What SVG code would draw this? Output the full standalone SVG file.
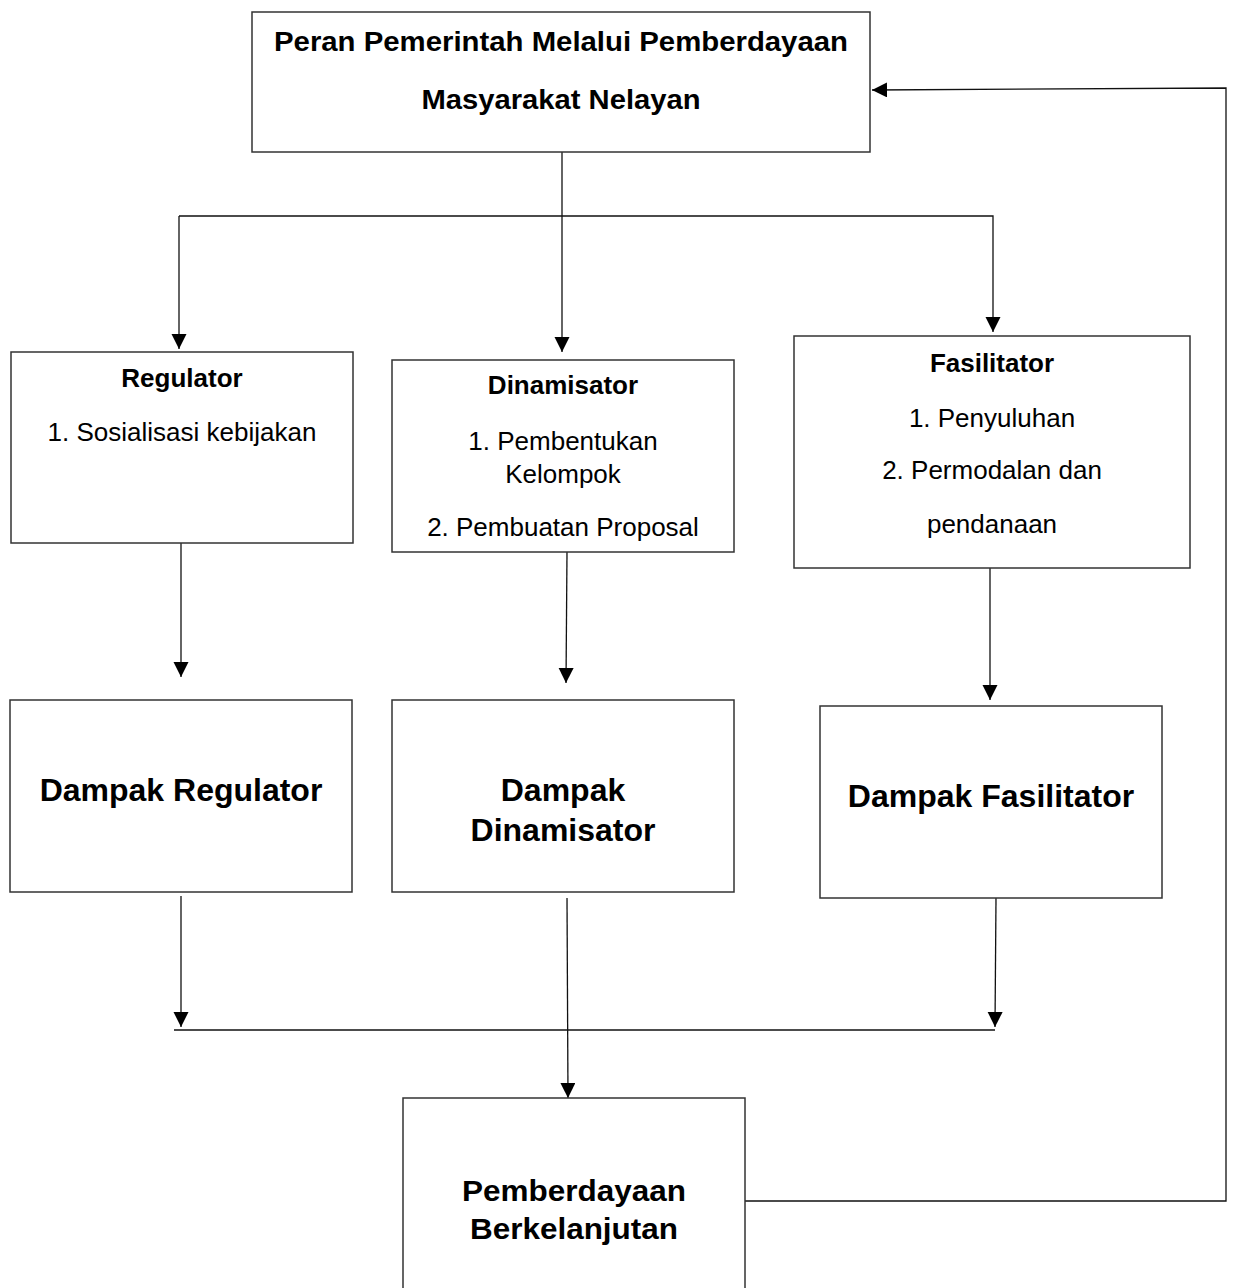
<svg xmlns="http://www.w3.org/2000/svg" width="1234" height="1288" viewBox="0 0 1234 1288">
<style>
.box{fill:#fff;stroke:#333;stroke-width:1.5}
.ln{fill:none;stroke:#111;stroke-width:1.3}
text{font-family:"Liberation Sans",Arial,sans-serif;fill:#000;text-anchor:middle}
.h{font-weight:bold;font-size:26px}
.r{font-size:26px}
.big{font-weight:bold;font-size:32px}
.tt{font-weight:bold;font-size:27px}
.bt{font-weight:bold;font-size:30px}
</style>
<defs>
<marker id="ah" markerWidth="15" markerHeight="16" refX="15" refY="7.5" orient="auto" markerUnits="userSpaceOnUse">
<path d="M0,0 L15,7.5 L0,15 Z" fill="#000"/>
</marker>
</defs>
<rect width="1234" height="1288" fill="#fff"/>
<g id="connectors">
<line class="ln" x1="562" y1="152" x2="562" y2="352" marker-end="url(#ah)"/>
<polyline class="ln" points="179,216 993,216 993,332" marker-end="url(#ah)"/>
<line class="ln" x1="179" y1="216" x2="179" y2="349" marker-end="url(#ah)"/>
<line class="ln" x1="181" y1="543" x2="181" y2="677" marker-end="url(#ah)"/>
<line class="ln" x1="567" y1="552" x2="566" y2="683" marker-end="url(#ah)"/>
<line class="ln" x1="990" y1="568" x2="990" y2="700" marker-end="url(#ah)"/>
<line class="ln" x1="181" y1="896" x2="181" y2="1027" marker-end="url(#ah)"/>
<line class="ln" x1="996" y1="898" x2="995" y2="1027" marker-end="url(#ah)"/>
<line class="ln" x1="174" y1="1030" x2="995" y2="1030"/>
<line class="ln" x1="567" y1="898" x2="568" y2="1098" marker-end="url(#ah)"/>
<polyline class="ln" points="745,1201 1226,1201 1226,88 872,90" marker-end="url(#ah)"/>
</g>
<g id="top">
<rect class="box" x="252" y="12" width="618" height="140"/>
<text class="tt" x="561" y="51" textLength="574" lengthAdjust="spacingAndGlyphs">Peran Pemerintah Melalui Pemberdayaan</text>
<text class="tt" x="561" y="109" textLength="279" lengthAdjust="spacingAndGlyphs">Masyarakat Nelayan</text>
</g>
<g id="regulator">
<rect class="box" x="11" y="352" width="342" height="191"/>
<text class="h" x="182" y="387">Regulator</text>
<text class="r" x="182" y="441">1. Sosialisasi kebijakan</text>
</g>
<g id="dinamisator">
<rect class="box" x="392" y="360" width="342" height="192"/>
<text class="h" x="563" y="394">Dinamisator</text>
<text class="r" x="563" y="450">1. Pembentukan</text>
<text class="r" x="563" y="483">Kelompok</text>
<text class="r" x="563" y="536">2. Pembuatan Proposal</text>
</g>
<g id="fasilitator">
<rect class="box" x="794" y="336" width="396" height="232"/>
<text class="h" x="992" y="372">Fasilitator</text>
<text class="r" x="992" y="427">1. Penyuluhan</text>
<text class="r" x="992" y="479">2. Permodalan dan</text>
<text class="r" x="992" y="533">pendanaan</text>
</g>
<g id="dampak-regulator">
<rect class="box" x="10" y="700" width="342" height="192"/>
<text class="big" x="181" y="801">Dampak Regulator</text>
</g>
<g id="dampak-dinamisator">
<rect class="box" x="392" y="700" width="342" height="192"/>
<text class="big" x="563" y="801">Dampak</text>
<text class="big" x="563" y="841">Dinamisator</text>
</g>
<g id="dampak-fasilitator">
<rect class="box" x="820" y="706" width="342" height="192"/>
<text class="big" x="991" y="807">Dampak Fasilitator</text>
</g>
<g id="pemberdayaan">
<rect class="box" x="403" y="1098" width="342" height="200"/>
<text class="bt" x="574" y="1201" textLength="224" lengthAdjust="spacingAndGlyphs">Pemberdayaan</text>
<text class="bt" x="574" y="1239" textLength="208" lengthAdjust="spacingAndGlyphs">Berkelanjutan</text>
</g>
</svg>
